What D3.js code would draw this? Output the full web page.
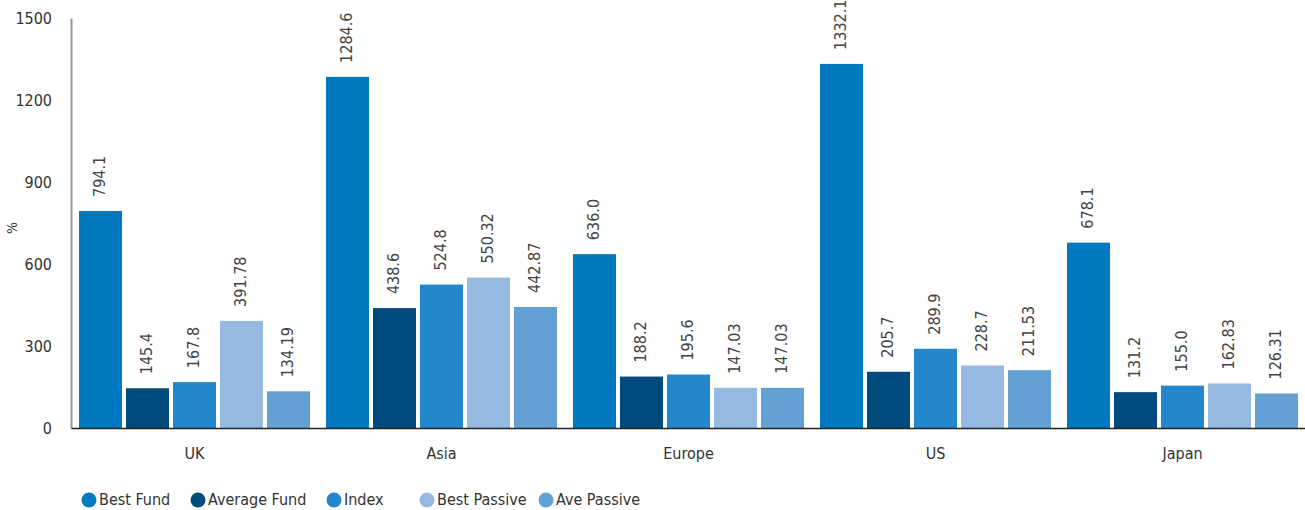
<!DOCTYPE html>
<html>
<head>
<meta charset="utf-8">
<script src="https://cdn.jsdelivr.net/npm/d3@7"></script>
<style>
  body { margin: 0; background: #fff; }
  .text { font-family: "Liberation Sans Narrow", "DejaVu Sans Condensed", "Roboto", sans-serif; fill: #333; }
  .tick-label { font-size: 16px; }
  .value-label { font-size: 16px; fill: #444; }
  .cat-label { font-size: 16px; }
  .legend-label { font-size: 16px; }
</style>
</head>
<body>
<div id="chart"></div>
<script>
// Chart data
const categories = ["UK", "Asia", "Europe", "US", "Japan"];
const seriesNames = ["Best Fund", "Average Fund", "Index", "Best Passive", "Ave Passive"];
const bestFund    = [794.1, 1284.6, 636.0, 1332.1, 678.1];
const averageFund = [145.4, 438.6, 188.2, 205.7, 131.2];
const indexVals   = [167.8, 524.8, 195.6, 289.9, 155.0];
const bestPassive = [391.78, 550.32, 147.03, 228.7, 162.83];
const avePassive  = [134.19, 442.87, 147.03, 211.53, 126.31];
const valueLabels = [
    ["794.1", "1284.6", "636.0", "1332.1", "678.1"],
    ["145.4", "438.6", "188.2", "205.7", "131.2"],
    ["167.8", "524.8", "195.6", "289.9", "155.0"],
    ["391.78", "550.32", "147.03", "228.7", "162.83"],
    ["134.19", "442.87", "147.03", "211.53", "126.31"]
];
const yTicks = [0, 300, 600, 900, 1200, 1500];

const seriesValues = [bestFund, averageFund, indexVals, bestPassive, avePassive];
const colors = ["#0079c1", "#004b7d", "#2288cb", "#95b9e0", "#63a0d4"];

// Dimensions
const width = 1305, height = 510;
const plot = { left: 71, right: 1306, top: 18, bottom: 428 };

const svg = d3.select("#chart")
    .append("svg")
    .attr("width", width)
    .attr("height", height);

// Scales
const yScale = d3.scaleLinear()
    .domain([0, 1500])
    .range([plot.bottom, plot.top]);

const x0 = d3.scaleBand()
    .domain(categories)
    .range([plot.left, plot.right])
    .padding(0);

const x1 = d3.scaleBand()
    .domain(seriesNames)
    .range([8, x0.bandwidth() - 8])
    .paddingInner(0.085)
    .paddingOuter(0);

// Y axis (labels only, plus line)
const yAxis = svg.append("g")
    .attr("transform", `translate(${plot.left},0)`)
    .call(d3.axisLeft(yScale).tickValues(yTicks).tickFormat(d3.format("d")).tickSize(0).tickPadding(19));
yAxis.select(".domain").attr("stroke", "#999").attr("stroke-width", 2);
yAxis.selectAll("text")
    .attr("class", "tick-label text")
    .attr("font-family", null)
    .attr("font-size", null);

// Y axis label
svg.append("text")
    .attr("class", "text")
    .attr("transform", `translate(13, 228) rotate(-90)`)
    .attr("text-anchor", "middle")
    .attr("dominant-baseline", "middle")
    .style("font-size", "14px")
    .text("%");

// Bars
const groups = svg.selectAll("g.group")
    .data(categories)
    .join("g")
    .attr("class", "group")
    .attr("transform", d => `translate(${x0(d)},0)`);

groups.each(function(cat, ci) {
    const g = d3.select(this);
    const rows = seriesNames.map((s, si) => ({ s, si, v: seriesValues[si][ci], label: valueLabels[si][ci] }));

    g.selectAll("rect")
        .data(rows)
        .join("rect")
        .attr("x", d => x1(d.s))
        .attr("y", d => yScale(d.v))
        .attr("width", x1.bandwidth())
        .attr("height", d => yScale(0) - yScale(d.v))
        .attr("fill", d => colors[d.si]);

    g.selectAll("text.value-label")
        .data(rows)
        .join("text")
        .attr("class", "value-label text")
        .attr("transform", d => `translate(${x1(d.s) + x1.bandwidth() / 2}, ${yScale(d.v) - 14}) rotate(-90)`)
        .attr("text-anchor", "start")
        .attr("dominant-baseline", "middle")
        .text(d => d.label);
});

// X axis
const xAxis = svg.append("g")
    .attr("transform", `translate(0,${plot.bottom})`)
    .call(d3.axisBottom(x0).tickSize(0).tickPadding(20));
xAxis.select(".domain").attr("stroke", "#222").attr("stroke-width", 1.5);
xAxis.selectAll("text")
    .attr("class", "cat-label text")
    .attr("font-family", null)
    .attr("font-size", null);

// Legend
const legendX = [89, 198, 334, 427, 546];
const legend = svg.append("g")
    .attr("transform", `translate(0, 500)`);

const items = legend.selectAll("g")
    .data(seriesNames)
    .join("g")
    .attr("transform", (d, i) => `translate(${legendX[i]},0)`);

items.append("circle")
    .attr("r", 7.5)
    .attr("fill", (d, i) => colors[i]);

items.append("text")
    .attr("class", "legend-label text")
    .attr("x", 10)
    .attr("dominant-baseline", "middle")
    .text(d => d);
</script>
</body>
</html>
